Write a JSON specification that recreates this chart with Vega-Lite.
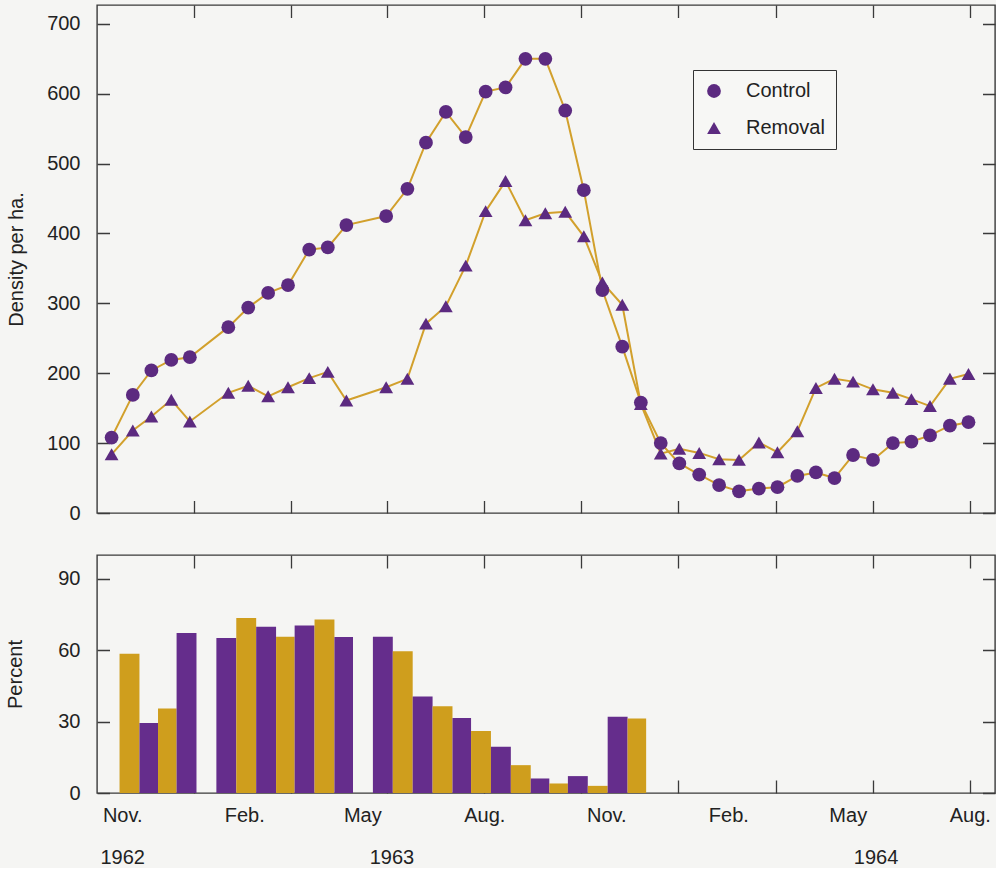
{
  "$schema": "https://vega.github.io/schema/vega-lite/v6.json",
  "padding": {"left": 5, "top": 4, "right": 0, "bottom": 0},
  "background": "#f5f5f3",
  "spacing": 30,
  "datasets": {
    "density": [
      {"date": "1962-10-24", "series": "Control", "density": 108}, {"date": "1962-10-24", "series": "Removal", "density": 84},
      {"date": "1962-11-09", "series": "Control", "density": 169}, {"date": "1962-11-09", "series": "Removal", "density": 118},
      {"date": "1962-11-23", "series": "Control", "density": 204}, {"date": "1962-11-23", "series": "Removal", "density": 138},
      {"date": "1962-12-08", "series": "Control", "density": 219}, {"date": "1962-12-08", "series": "Removal", "density": 162},
      {"date": "1962-12-22", "series": "Control", "density": 223}, {"date": "1962-12-22", "series": "Removal", "density": 131},
      {"date": "1963-01-20", "series": "Control", "density": 266}, {"date": "1963-01-20", "series": "Removal", "density": 172},
      {"date": "1963-02-04", "series": "Control", "density": 294}, {"date": "1963-02-04", "series": "Removal", "density": 182},
      {"date": "1963-02-19", "series": "Control", "density": 315}, {"date": "1963-02-19", "series": "Removal", "density": 167},
      {"date": "1963-03-06", "series": "Control", "density": 326}, {"date": "1963-03-06", "series": "Removal", "density": 180},
      {"date": "1963-03-22", "series": "Control", "density": 377}, {"date": "1963-03-22", "series": "Removal", "density": 193},
      {"date": "1963-04-05", "series": "Control", "density": 380}, {"date": "1963-04-05", "series": "Removal", "density": 202},
      {"date": "1963-04-19", "series": "Control", "density": 412}, {"date": "1963-04-19", "series": "Removal", "density": 161},
      {"date": "1963-05-19", "series": "Control", "density": 425}, {"date": "1963-05-19", "series": "Removal", "density": 180},
      {"date": "1963-06-04", "series": "Control", "density": 464}, {"date": "1963-06-04", "series": "Removal", "density": 192},
      {"date": "1963-06-18", "series": "Control", "density": 530}, {"date": "1963-06-18", "series": "Removal", "density": 271},
      {"date": "1963-07-03", "series": "Control", "density": 574}, {"date": "1963-07-03", "series": "Removal", "density": 296},
      {"date": "1963-07-18", "series": "Control", "density": 538}, {"date": "1963-07-18", "series": "Removal", "density": 354},
      {"date": "1963-08-02", "series": "Control", "density": 603}, {"date": "1963-08-02", "series": "Removal", "density": 432},
      {"date": "1963-08-17", "series": "Control", "density": 609}, {"date": "1963-08-17", "series": "Removal", "density": 475},
      {"date": "1963-09-01", "series": "Control", "density": 650}, {"date": "1963-09-01", "series": "Removal", "density": 419},
      {"date": "1963-09-16", "series": "Control", "density": 650}, {"date": "1963-09-16", "series": "Removal", "density": 429},
      {"date": "1963-10-01", "series": "Control", "density": 576}, {"date": "1963-10-01", "series": "Removal", "density": 431},
      {"date": "1963-10-15", "series": "Control", "density": 462}, {"date": "1963-10-15", "series": "Removal", "density": 396},
      {"date": "1963-10-29", "series": "Control", "density": 319}, {"date": "1963-10-29", "series": "Removal", "density": 330},
      {"date": "1963-11-13", "series": "Control", "density": 238}, {"date": "1963-11-13", "series": "Removal", "density": 298},
      {"date": "1963-11-27", "series": "Control", "density": 158}, {"date": "1963-11-27", "series": "Removal", "density": 156},
      {"date": "1963-12-12", "series": "Control", "density": 100}, {"date": "1963-12-12", "series": "Removal", "density": 85},
      {"date": "1963-12-26", "series": "Control", "density": 71}, {"date": "1963-12-26", "series": "Removal", "density": 92},
      {"date": "1964-01-10", "series": "Control", "density": 55}, {"date": "1964-01-10", "series": "Removal", "density": 86},
      {"date": "1964-01-25", "series": "Control", "density": 40}, {"date": "1964-01-25", "series": "Removal", "density": 77},
      {"date": "1964-02-09", "series": "Control", "density": 31}, {"date": "1964-02-09", "series": "Removal", "density": 76},
      {"date": "1964-02-24", "series": "Control", "density": 35}, {"date": "1964-02-24", "series": "Removal", "density": 101},
      {"date": "1964-03-09", "series": "Control", "density": 37}, {"date": "1964-03-09", "series": "Removal", "density": 87},
      {"date": "1964-03-24", "series": "Control", "density": 53}, {"date": "1964-03-24", "series": "Removal", "density": 117},
      {"date": "1964-04-07", "series": "Control", "density": 58}, {"date": "1964-04-07", "series": "Removal", "density": 179},
      {"date": "1964-04-21", "series": "Control", "density": 50}, {"date": "1964-04-21", "series": "Removal", "density": 192},
      {"date": "1964-05-05", "series": "Control", "density": 83}, {"date": "1964-05-05", "series": "Removal", "density": 188},
      {"date": "1964-05-20", "series": "Control", "density": 76}, {"date": "1964-05-20", "series": "Removal", "density": 177},
      {"date": "1964-06-04", "series": "Control", "density": 100}, {"date": "1964-06-04", "series": "Removal", "density": 172},
      {"date": "1964-06-18", "series": "Control", "density": 102}, {"date": "1964-06-18", "series": "Removal", "density": 163},
      {"date": "1964-07-02", "series": "Control", "density": 111}, {"date": "1964-07-02", "series": "Removal", "density": 153},
      {"date": "1964-07-17", "series": "Control", "density": 125}, {"date": "1964-07-17", "series": "Removal", "density": 192},
      {"date": "1964-07-31", "series": "Control", "density": 130}, {"date": "1964-07-31", "series": "Removal", "density": 199}
    ],
    "breeding": [
      {"start": "1962-10-30", "end": "1962-11-14", "grid": "Removal", "percent": 58.5},
      {"start": "1962-11-14", "end": "1962-11-28", "grid": "Control", "percent": 29.4},
      {"start": "1962-11-28", "end": "1962-12-12", "grid": "Removal", "percent": 35.5},
      {"start": "1962-12-12", "end": "1962-12-27", "grid": "Control", "percent": 67.2},
      {"start": "1963-01-11", "end": "1963-01-26", "grid": "Control", "percent": 65.1},
      {"start": "1963-01-26", "end": "1963-02-10", "grid": "Removal", "percent": 73.5},
      {"start": "1963-02-10", "end": "1963-02-25", "grid": "Control", "percent": 69.9},
      {"start": "1963-02-25", "end": "1963-03-11", "grid": "Removal", "percent": 65.7},
      {"start": "1963-03-11", "end": "1963-03-26", "grid": "Control", "percent": 70.4},
      {"start": "1963-03-26", "end": "1963-04-10", "grid": "Removal", "percent": 72.9},
      {"start": "1963-04-10", "end": "1963-04-24", "grid": "Control", "percent": 65.5},
      {"start": "1963-05-09", "end": "1963-05-24", "grid": "Control", "percent": 65.7},
      {"start": "1963-05-24", "end": "1963-06-08", "grid": "Removal", "percent": 59.6},
      {"start": "1963-06-08", "end": "1963-06-23", "grid": "Control", "percent": 40.5},
      {"start": "1963-06-23", "end": "1963-07-08", "grid": "Removal", "percent": 36.4},
      {"start": "1963-07-08", "end": "1963-07-22", "grid": "Control", "percent": 31.5},
      {"start": "1963-07-22", "end": "1963-08-06", "grid": "Removal", "percent": 26},
      {"start": "1963-08-06", "end": "1963-08-21", "grid": "Control", "percent": 19.4},
      {"start": "1963-08-21", "end": "1963-09-05", "grid": "Removal", "percent": 11.7},
      {"start": "1963-09-05", "end": "1963-09-19", "grid": "Control", "percent": 6.1},
      {"start": "1963-09-19", "end": "1963-10-03", "grid": "Removal", "percent": 4},
      {"start": "1963-10-03", "end": "1963-10-18", "grid": "Control", "percent": 7.1},
      {"start": "1963-10-18", "end": "1963-11-02", "grid": "Removal", "percent": 3},
      {"start": "1963-11-02", "end": "1963-11-17", "grid": "Control", "percent": 32},
      {"start": "1963-11-17", "end": "1963-12-01", "grid": "Removal", "percent": 31.3}
    ]
  },
  "vconcat": [
    {
      "width": 898,
      "height": 508,
      "data": {"name": "density"},
      "encoding": {
        "x": {
          "field": "date", "type": "temporal",
          "scale": {"domain": [{"year": 1962, "month": 10, "date": 13}, {"year": 1964, "month": 8, "date": 20}]},
          "axis": {
            "title": null, "labels": false,
            "values": [
              {"year": 1962, "month": 12, "date": 25}, {"year": 1963, "month": 3, "date": 8}, {"year": 1963, "month": 5, "date": 20},
              {"year": 1963, "month": 8, "date": 1}, {"year": 1963, "month": 10, "date": 13}, {"year": 1963, "month": 12, "date": 25},
              {"year": 1964, "month": 3, "date": 8}, {"year": 1964, "month": 5, "date": 20}, {"year": 1964, "month": 8, "date": 1}
            ],
            "gridDash": [12.5, 483, 12.5, 2000]
          }
        },
        "y": {
          "field": "density", "type": "quantitative",
          "scale": {"domain": [0, 727], "nice": false},
          "axis": {
            "title": "Density per ha.",
            "values": [0, 100, 200, 300, 400, 500, 600, 700],
            "gridDash": [12.5, 873, 12.5, 2000],
            "labelPadding": 17,
            "titlePadding": 20
          }
        }
      },
      "layer": [
        {
          "mark": {"type": "line", "color": "#d2a02c", "strokeWidth": 2},
          "encoding": {"detail": {"field": "series", "type": "nominal"}}
        },
        {
          "mark": {"type": "point", "filled": true, "opacity": 1, "color": "#5c2a80", "size": 190},
          "encoding": {
            "shape": {
              "field": "series", "type": "nominal",
              "scale": {"domain": ["Control", "Removal"], "range": ["circle", "triangle-up"]},
              "legend": {
                "title": null, "orient": "none", "legendX": 596, "legendY": 65,
                "direction": "vertical",
                "strokeColor": "#333", "fillColor": "#f7f7f5", "padding": 11,
                "labelFont": "Liberation Sans", "labelFontSize": 20, "labelColor": "#222",
                "symbolSize": 190, "symbolFillColor": "#5c2a80", "symbolStrokeColor": "#5c2a80", "symbolOpacity": 1,
                "labelOffset": 22, "rowPadding": 17
              }
            }
          }
        }
      ]
    },
    {
      "width": 898,
      "height": 238,
      "data": {"name": "breeding"},
      "mark": {"type": "rect"},
      "encoding": {
        "x": {
          "field": "start", "type": "temporal",
          "scale": {"domain": [{"year": 1962, "month": 10, "date": 13}, {"year": 1964, "month": 8, "date": 20}]},
          "axis": {
            "title": null,
            "values": [
              {"year": 1962, "month": 11, "date": 1}, {"year": 1962, "month": 12, "date": 25}, {"year": 1963, "month": 2, "date": 1},
              {"year": 1963, "month": 3, "date": 8}, {"year": 1963, "month": 5, "date": 1}, {"year": 1963, "month": 5, "date": 20},
              {"year": 1963, "month": 5, "date": 23},
              {"year": 1963, "month": 8, "date": 1}, {"year": 1963, "month": 10, "date": 13}, {"year": 1963, "month": 11, "date": 1},
              {"year": 1963, "month": 12, "date": 25}, {"year": 1964, "month": 2, "date": 1}, {"year": 1964, "month": 3, "date": 8},
              {"year": 1964, "month": 5, "date": 1}, {"year": 1964, "month": 5, "date": 20}, {"year": 1964, "month": 5, "date": 22},
              {"year": 1964, "month": 8, "date": 1}
            ],
            "labelExpr": "date(datum.value) == 1 ? (month(datum.value) == 10 ? (year(datum.value) == 1962 ? ['Nov.', '1962'] : 'Nov.') : month(datum.value) == 1 ? 'Feb.' : month(datum.value) == 4 ? 'May' : month(datum.value) == 7 ? 'Aug.' : '') : ((date(datum.value) == 22 || date(datum.value) == 23) ? ['', timeFormat(datum.value, '%Y')] : '')",
            "gridDash": [13, 212, 13, 2000],
            "gridOpacity": {"condition": {"test": "(date(datum.value) == 1 && month(datum.value) != 7) || date(datum.value) == 22 || date(datum.value) == 23", "value": 0}, "value": 1},
            "labelPadding": 12,
            "labelLineHeight": 42,
            "labelOverlap": false,
            "labelBound": false,
            "labelFlush": false,
            "labelAngle": 0,
            "labelAlign": "center",
            "labelBaseline": "top"
          }
        },
        "x2": {"field": "end"},
        "y": {
          "field": "percent", "type": "quantitative",
          "scale": {"domain": [0, 100], "nice": false},
          "axis": {
            "title": "Percent",
            "values": [0, 30, 60, 90],
            "gridDash": [12.5, 873, 12.5, 2000],
            "labelPadding": 17,
            "titlePadding": 32
          }
        },
        "y2": {"datum": 0},
        "color": {
          "field": "grid", "type": "nominal",
          "scale": {"domain": ["Control", "Removal"], "range": ["#652d8c", "#cf9e1d"]},
          "legend": null
        }
      }
    }
  ],
  "resolve": {"scale": {"x": "independent", "y": "independent", "color": "independent", "shape": "independent"}},
  "config": {
    "font": "Liberation Sans",
    "view": {"stroke": "#3a3a3a", "strokeWidth": 1.4},
    "axis": {
      "labelFont": "Liberation Sans", "labelFontSize": 20, "labelColor": "#222",
      "titleFont": "Liberation Sans", "titleFontSize": 20, "titleFontWeight": "normal", "titleColor": "#222",
      "domain": false, "ticks": false, "tickSize": 0,
      "grid": true, "gridColor": "#3a3a3a", "gridWidth": 1.3, "zindex": 1
    }
  }
}
